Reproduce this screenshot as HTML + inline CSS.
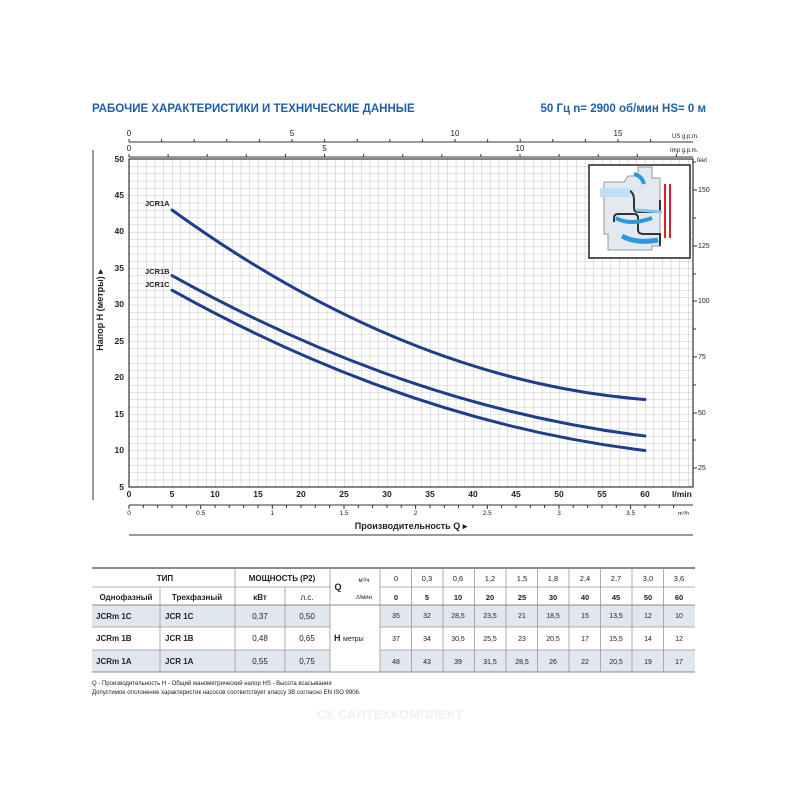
<!DOCTYPE html>
<html><head><meta charset="utf-8"><style>
body{margin:0;background:#fff;}
svg text{font-family:"Liberation Sans",sans-serif;}
</style></head><body>
<svg width="800" height="800" viewBox="0 0 800 800" xmlns="http://www.w3.org/2000/svg">
<defs>
<pattern id="g" x="129" y="159" width="8.6" height="7.29" patternUnits="userSpaceOnUse">
<path d="M0 0V7.29M0 0H8.6" stroke="#b4b4b4" stroke-width="0.8" fill="none"/>
</pattern>
</defs>
<rect width="800" height="800" fill="#fff"/>
<text x="92" y="112" font-size="11.5" font-weight="bold" fill="#1f5fa8">РАБОЧИЕ ХАРАКТЕРИСТИКИ И ТЕХНИЧЕСКИЕ ДАННЫЕ</text>
<text x="706" y="112" font-size="11.5" font-weight="bold" fill="#1f5fa8" text-anchor="end">50 Гц    n= 2900 об/мин    HS= 0 м</text>

<line x1="93" y1="150" x2="93" y2="500" stroke="#333" stroke-width="1"/>
<text transform="translate(103,310) rotate(-90)" font-size="9" font-weight="bold" text-anchor="middle" fill="#222">Напор H (метры) ▸</text>

<rect x="129" y="159" width="564" height="328" fill="url(#g)"/>
<rect x="129" y="159" width="564" height="328" fill="none" stroke="#333" stroke-width="1.2"/>

<line x1="129" y1="142" x2="693" y2="142" stroke="#333"/>
<g stroke="#333"><line x1="129" y1="139" x2="129" y2="142"/><line x1="161.6" y1="139" x2="161.6" y2="142"/><line x1="194.2" y1="139" x2="194.2" y2="142"/><line x1="226.8" y1="139" x2="226.8" y2="142"/><line x1="259.4" y1="139" x2="259.4" y2="142"/><line x1="292" y1="139" x2="292" y2="142"/><line x1="324.6" y1="139" x2="324.6" y2="142"/><line x1="357.2" y1="139" x2="357.2" y2="142"/><line x1="389.8" y1="139" x2="389.8" y2="142"/><line x1="422.4" y1="139" x2="422.4" y2="142"/><line x1="455" y1="139" x2="455" y2="142"/><line x1="487.6" y1="139" x2="487.6" y2="142"/><line x1="520.2" y1="139" x2="520.2" y2="142"/><line x1="552.8" y1="139" x2="552.8" y2="142"/><line x1="585.4" y1="139" x2="585.4" y2="142"/><line x1="618" y1="139" x2="618" y2="142"/><line x1="650.6" y1="139" x2="650.6" y2="142"/></g>
<g font-size="8" fill="#222" text-anchor="middle"><text x="129" y="136">0</text><text x="292" y="136">5</text><text x="455" y="136">10</text><text x="618" y="136">15</text></g>
<text x="672" y="138" font-size="6" fill="#222">US g.p.m.</text>
<line x1="129" y1="157" x2="693" y2="157" stroke="#333"/>
<g stroke="#333"><line x1="129" y1="154" x2="129" y2="157"/><line x1="168.1" y1="154" x2="168.1" y2="157"/><line x1="207.2" y1="154" x2="207.2" y2="157"/><line x1="246.3" y1="154" x2="246.3" y2="157"/><line x1="285.4" y1="154" x2="285.4" y2="157"/><line x1="324.5" y1="154" x2="324.5" y2="157"/><line x1="363.6" y1="154" x2="363.6" y2="157"/><line x1="402.7" y1="154" x2="402.7" y2="157"/><line x1="441.8" y1="154" x2="441.8" y2="157"/><line x1="480.9" y1="154" x2="480.9" y2="157"/><line x1="520" y1="154" x2="520" y2="157"/><line x1="559.1" y1="154" x2="559.1" y2="157"/><line x1="598.2" y1="154" x2="598.2" y2="157"/><line x1="637.3" y1="154" x2="637.3" y2="157"/><line x1="676.4" y1="154" x2="676.4" y2="157"/></g>
<g font-size="8" fill="#222" text-anchor="middle"><text x="129" y="151">0</text><text x="324.5" y="151">5</text><text x="520" y="151">10</text></g>
<text x="670" y="152" font-size="6" fill="#222">Imp g.p.m.</text>

<g font-size="8.5" font-weight="bold" fill="#222" text-anchor="end">
<text x="124" y="162">50</text><text x="124" y="198">45</text><text x="124" y="234">40</text><text x="124" y="271">35</text><text x="124" y="307">30</text><text x="124" y="344">25</text><text x="124" y="380">20</text><text x="124" y="417">15</text><text x="124" y="453">10</text><text x="124" y="490">5</text>
</g>
<g stroke="#333"><line x1="693" y1="190" x2="697" y2="190"/><line x1="693" y1="246" x2="697" y2="246"/><line x1="693" y1="301" x2="697" y2="301"/><line x1="693" y1="357" x2="697" y2="357"/><line x1="693" y1="413" x2="697" y2="413"/><line x1="693" y1="468" x2="697" y2="468"/><line x1="693" y1="218" x2="696" y2="218"/><line x1="693" y1="274" x2="696" y2="274"/><line x1="693" y1="329" x2="696" y2="329"/><line x1="693" y1="385" x2="696" y2="385"/><line x1="693" y1="440" x2="696" y2="440"/><line x1="693" y1="162" x2="696" y2="162"/></g>
<g font-size="7" fill="#222"><text x="698" y="192">150</text><text x="698" y="248">125</text><text x="698" y="303">100</text><text x="698" y="359">75</text><text x="698" y="415">50</text><text x="698" y="470">25</text><text x="697" y="162" font-size="6">feet</text></g>

<g font-size="8.5" font-weight="bold" fill="#222" text-anchor="middle">
<text x="129" y="497">0</text><text x="172" y="497">5</text><text x="215" y="497">10</text><text x="258" y="497">15</text><text x="301" y="497">20</text><text x="344" y="497">25</text><text x="387" y="497">30</text><text x="430" y="497">35</text><text x="473" y="497">40</text><text x="516" y="497">45</text><text x="559" y="497">50</text><text x="602" y="497">55</text><text x="645" y="497">60</text></g>
<text x="672" y="497" font-size="8.5" font-weight="bold" fill="#222">l/min</text>
<line x1="129" y1="505" x2="693" y2="505" stroke="#333"/>
<g stroke="#333">
<line x1="129" y1="505" x2="129" y2="509"/><line x1="143.3" y1="505" x2="143.3" y2="508"/><line x1="157.7" y1="505" x2="157.7" y2="508"/><line x1="172" y1="505" x2="172" y2="508"/><line x1="186.3" y1="505" x2="186.3" y2="508"/><line x1="200.7" y1="505" x2="200.7" y2="509"/><line x1="215" y1="505" x2="215" y2="508"/><line x1="229.3" y1="505" x2="229.3" y2="508"/><line x1="243.6" y1="505" x2="243.6" y2="508"/><line x1="258" y1="505" x2="258" y2="508"/><line x1="272.3" y1="505" x2="272.3" y2="509"/><line x1="286.6" y1="505" x2="286.6" y2="508"/><line x1="301" y1="505" x2="301" y2="508"/><line x1="315.3" y1="505" x2="315.3" y2="508"/><line x1="329.6" y1="505" x2="329.6" y2="508"/><line x1="344" y1="505" x2="344" y2="509"/><line x1="358.3" y1="505" x2="358.3" y2="508"/><line x1="372.6" y1="505" x2="372.6" y2="508"/><line x1="387" y1="505" x2="387" y2="508"/><line x1="401.3" y1="505" x2="401.3" y2="508"/><line x1="415.6" y1="505" x2="415.6" y2="509"/><line x1="430" y1="505" x2="430" y2="508"/><line x1="444.3" y1="505" x2="444.3" y2="508"/><line x1="458.6" y1="505" x2="458.6" y2="508"/><line x1="473" y1="505" x2="473" y2="508"/><line x1="487.3" y1="505" x2="487.3" y2="509"/><line x1="501.6" y1="505" x2="501.6" y2="508"/><line x1="516" y1="505" x2="516" y2="508"/><line x1="530.3" y1="505" x2="530.3" y2="508"/><line x1="544.6" y1="505" x2="544.6" y2="508"/><line x1="559" y1="505" x2="559" y2="509"/><line x1="573.3" y1="505" x2="573.3" y2="508"/><line x1="587.6" y1="505" x2="587.6" y2="508"/><line x1="602" y1="505" x2="602" y2="508"/><line x1="616.3" y1="505" x2="616.3" y2="508"/><line x1="630.6" y1="505" x2="630.6" y2="509"/><line x1="645" y1="505" x2="645" y2="508"/><line x1="659.3" y1="505" x2="659.3" y2="508"/><line x1="673.6" y1="505" x2="673.6" y2="508"/></g>
<g font-size="6.5" fill="#222" text-anchor="middle"><text x="129" y="515">0</text><text x="200.7" y="515">0.5</text><text x="272.3" y="515">1</text><text x="344" y="515">1.5</text><text x="415.6" y="515">2</text><text x="487.3" y="515">2.5</text><text x="559" y="515">3</text><text x="630.6" y="515">3.5</text></g>
<text x="678" y="515" font-size="5.5" fill="#222">m³/h</text>
<text x="411" y="529" font-size="9" font-weight="bold" fill="#222" text-anchor="middle">Производительность Q  ▸</text>
<line x1="129" y1="535" x2="693" y2="535" stroke="#333" stroke-width="1"/>

<rect x="589" y="165" width="101" height="93" fill="#fff" stroke="#222" stroke-width="1.5"/>
<path d="M604 182h20l4-6h10v-9h14v11h8v68h-8v4h-44v-16h-4z" fill="#e4e9ef" stroke="#999" stroke-width="1"/>
<path d="M604 190h24q6 2 6 10v8q0 4 4 4h22v-12M614 222v-4q0-4 4-4h16q4 0 4 4v12q0 4 6 4h16v12" fill="none" stroke="#333" stroke-width="2"/>
<path d="M600 188h30v9h-30z" fill="#bfe0f4"/>
<path d="M616 218q14 8 36 0" fill="none" stroke="#2a9ae0" stroke-width="4"/>
<path d="M622 236q14 8 36 4" fill="none" stroke="#2a9ae0" stroke-width="5"/>
<path d="M634 174q8 2 10 10" fill="none" stroke="#2a9ae0" stroke-width="4"/>
<path d="M636 210l26 2" stroke="#7cc8f0" stroke-width="3"/>
<path d="M665 184v54M670 184v54" stroke="#e02020" stroke-width="2"/>

<g fill="none" stroke="#1e3d8c" stroke-width="3" stroke-linecap="round">
<path d="M172 210 Q408.5 380.9 645 399.5"/>
<path d="M172 275.6 Q408.5 407.2 645 436"/>
<path d="M172 290.2 Q408.5 421.8 645 450.5"/>
</g>
<g font-size="7.5" font-weight="bold" fill="#222"><text x="145" y="206">JCR1A</text><text x="145" y="274">JCR1B</text><text x="145" y="287">JCR1C</text></g>

<rect x="92" y="605" width="603" height="22" fill="#e1e7ee"/>
<rect x="92" y="650" width="603" height="22" fill="#e1e7ee"/>
<rect x="330" y="605" width="50" height="67" fill="#fff"/>
<g stroke="#999" stroke-width="0.8">
<line x1="92" y1="568" x2="695" y2="568" stroke="#666" stroke-width="1.5"/>
<line x1="92" y1="587" x2="330" y2="587"/>
<line x1="380" y1="587" x2="695" y2="587"/>
<line x1="92" y1="605" x2="695" y2="605" stroke="#666"/>
<line x1="92" y1="627" x2="330" y2="627"/><line x1="380" y1="627" x2="695" y2="627"/>
<line x1="92" y1="650" x2="330" y2="650"/><line x1="380" y1="650" x2="695" y2="650"/>
<line x1="92" y1="672" x2="695" y2="672" stroke="#666"/>
<line x1="160" y1="587" x2="160" y2="672"/><line x1="235" y1="568" x2="235" y2="672"/><line x1="285" y1="587" x2="285" y2="672"/><line x1="330" y1="568" x2="330" y2="672"/><line x1="380" y1="568" x2="380" y2="672"/>
<line x1="411.5" y1="568" x2="411.5" y2="672"/><line x1="443" y1="568" x2="443" y2="672"/><line x1="474.5" y1="568" x2="474.5" y2="672"/><line x1="506" y1="568" x2="506" y2="672"/><line x1="537.5" y1="568" x2="537.5" y2="672"/><line x1="569" y1="568" x2="569" y2="672"/><line x1="600.5" y1="568" x2="600.5" y2="672"/><line x1="632" y1="568" x2="632" y2="672"/><line x1="663.5" y1="568" x2="663.5" y2="672"/>
</g>
<g font-size="8" font-weight="bold" fill="#222" text-anchor="middle">
<text x="165" y="581">ТИП</text><text x="282" y="581">МОЩНОСТЬ (P2)</text>
<text x="126" y="600">Однофазный</text><text x="197" y="600">Трехфазный</text><text x="260" y="600">кВт</text><text x="307" y="600" font-weight="normal">л.с.</text>
<text x="338" y="590" font-size="9">Q</text><text x="364" y="582" font-size="6" font-weight="normal">м³/ч</text><text x="364" y="599" font-size="6" font-weight="normal">л/мин</text>
</g>
<g font-size="7.5" fill="#222" text-anchor="middle">
<text x="396" y="581">0</text><text x="427" y="581">0,3</text><text x="458" y="581">0,6</text><text x="490" y="581">1,2</text><text x="522" y="581">1,5</text><text x="553" y="581">1,8</text><text x="585" y="581">2,4</text><text x="616" y="581">2,7</text><text x="648" y="581">3,0</text><text x="679" y="581">3,6</text>
</g>
<g font-size="7.5" font-weight="bold" fill="#222" text-anchor="middle">
<text x="396" y="600">0</text><text x="427" y="600">5</text><text x="458" y="600">10</text><text x="490" y="600">20</text><text x="522" y="600">25</text><text x="553" y="600">30</text><text x="585" y="600">40</text><text x="616" y="600">45</text><text x="648" y="600">50</text><text x="679" y="600">60</text>
</g>
<g font-size="8" font-weight="bold" fill="#222">
<text x="96" y="619">JCRm 1C</text><text x="165" y="619">JCR 1C</text>
<text x="96" y="641">JCRm 1B</text><text x="165" y="641">JCR 1B</text>
<text x="96" y="664">JCRm 1A</text><text x="165" y="664">JCR 1A</text>
<text x="334" y="641" font-size="9">H <tspan font-size="7" font-weight="normal">метры</tspan></text>
</g>
<g font-size="8" fill="#222" text-anchor="middle">
<text x="260" y="619">0,37</text><text x="307" y="619">0,50</text>
<text x="260" y="641">0,48</text><text x="307" y="641">0,65</text>
<text x="260" y="664">0,55</text><text x="307" y="664">0,75</text>
</g>
<g font-size="7" fill="#222" text-anchor="middle">
<text x="396" y="618">35</text><text x="427" y="618">32</text><text x="458" y="618">28,5</text><text x="490" y="618">23,5</text><text x="522" y="618">21</text><text x="553" y="618">18,5</text><text x="585" y="618">15</text><text x="616" y="618">13,5</text><text x="648" y="618">12</text><text x="679" y="618">10</text>
<text x="396" y="641">37</text><text x="427" y="641">34</text><text x="458" y="641">30,5</text><text x="490" y="641">25,5</text><text x="522" y="641">23</text><text x="553" y="641">20,5</text><text x="585" y="641">17</text><text x="616" y="641">15,5</text><text x="648" y="641">14</text><text x="679" y="641">12</text>
<text x="396" y="664">48</text><text x="427" y="664">43</text><text x="458" y="664">39</text><text x="490" y="664">31,5</text><text x="522" y="664">28,5</text><text x="553" y="664">26</text><text x="585" y="664">22</text><text x="616" y="664">20,5</text><text x="648" y="664">19</text><text x="679" y="664">17</text>
</g>
<text x="92" y="685" font-size="6" fill="#222">Q - Производительность   H - Общий манометрический напор   HS - Высота всасывания</text>
<text x="92" y="694" font-size="6" fill="#222">Допустимое отклонение характеристик насосов соответствует классу 3B согласно EN ISO 9906.</text>
<text x="390" y="719" font-size="13" font-weight="bold" fill="#f0f0f0" text-anchor="middle">СК САНТЕХКОМПЛЕКТ</text>
</svg>
</body></html>
